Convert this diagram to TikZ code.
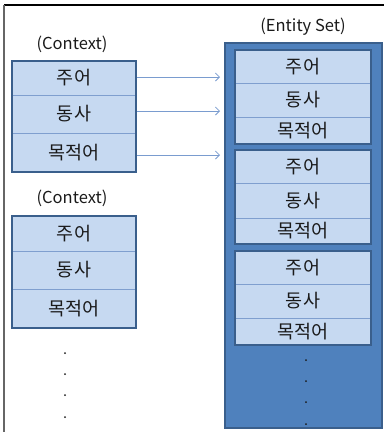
\documentclass[tikz,border=0pt]{standalone}
\usepackage{fontspec}
\setmainfont{Noto Sans CJK KR}
\usetikzlibrary{fit,arrows.meta}
\definecolor{rowfill}{HTML}{C6D9F1}
\definecolor{rowline}{HTML}{7F9FCF}
\definecolor{boxline}{HTML}{3A5F8C}
\definecolor{setfill}{HTML}{4F81BD}
\definecolor{arrowcol}{HTML}{7A9CCF}
\definecolor{txt}{HTML}{1A1A1A}
\tikzset{
  row/.style={draw=rowline, line width=0.8pt, fill=rowfill, minimum width=#1, inner sep=0pt,
     font=\fontsize{18.5}{19}\selectfont, text=txt},
  frame/.style={draw=boxline, line width=2pt, inner sep=0pt},
  lbl/.style={font=\fontsize{16.5}{17}\selectfont, text=txt, inner sep=0pt},
  arr/.style={draw=arrowcol, line width=0.8pt, -{Straight Barb[length=4pt,width=8pt]}},
  dotmark/.style={fill=txt, circle, inner sep=0pt, minimum size=2pt}
}
\begin{document}
\begin{tikzpicture}[x=1pt,y=-1pt]
\useasboundingbox (0,0) rectangle (384,432);
% outer frame
\draw[black, line width=1.3pt] (4,5) -- (384,5);
\draw[gray!80!black, line width=1.3pt] (4,5) -- (4,432);

% labels
\node[lbl] (lc1) at (72,44) {(Context)};
\node[lbl] (lc2) at (72,198) {(Context)};
\node[lbl] (les) at (303,27) {(Entity Set)};

% context box 1
\node[row=124pt, minimum height=34pt] (c1a) at (74,78) {주어};
\node[row=124pt, minimum height=38pt] (c1b) at (74,114) {동사};
\node[row=124pt, minimum height=39pt] (c1c) at (74,152.5) {목적어};
\node[frame, fit=(c1a)(c1c)] (c1) {};

% context box 2
\node[row=124pt, minimum height=35pt] (c2a) at (74,233.5) {주어};
\node[row=124pt, minimum height=38pt] (c2b) at (74,270) {동사};
\node[row=124pt, minimum height=39pt] (c2c) at (74,308.5) {목적어};
\node[frame, fit=(c2a)(c2c)] (c2) {};

% dots left
\node[dotmark] (ld1) at (65,353) {};
\node[dotmark] (ld2) at (65,374) {};
\node[dotmark] (ld3) at (65,395) {};
\node[dotmark] (ld4) at (65,417) {};

% entity set
\node[draw=boxline, line width=2pt, fill=setfill, minimum width=157pt, minimum height=385pt, inner sep=0pt] (es) at (303.5,235.5) {};

\node[row=136pt, minimum height=33pt] (e1a) at (303,66.5) {주어};
\node[row=136pt, minimum height=34pt] (e1b) at (303,100) {동사};
\node[row=136pt, minimum height=27pt] (e1c) at (303,130.5) {목적어};
\node[frame, fit=(e1a)(e1c)] (e1) {};

\node[row=136pt, minimum height=33pt] (e2a) at (303,166.5) {주어};
\node[row=136pt, minimum height=35pt] (e2b) at (303,200.5) {동사};
\node[row=136pt, minimum height=26pt] (e2c) at (303,231) {목적어};
\node[frame, fit=(e2a)(e2c)] (e2) {};

\node[row=136pt, minimum height=33pt] (e3a) at (303,267.5) {주어};
\node[row=136pt, minimum height=34pt] (e3b) at (303,301) {동사};
\node[row=136pt, minimum height=27pt] (e3c) at (303,331.5) {목적어};
\node[frame, fit=(e3a)(e3c)] (e3) {};

% dots right
\node[dotmark] (rd1) at (306,360) {};
\node[dotmark] (rd2) at (306,381) {};
\node[dotmark] (rd3) at (306,402) {};
\node[dotmark] (rd4) at (306,424) {};

% arrows
\coordinate (t1) at (220,77);
\coordinate (t2) at (220,111);
\coordinate (t3) at (220,155);
\draw[arr] (c1.east |- t1) -- (t1);
\draw[arr] (c1.east |- t2) -- (t2);
\draw[arr] (c1.east |- t3) -- (t3);
\end{tikzpicture}
\end{document}
